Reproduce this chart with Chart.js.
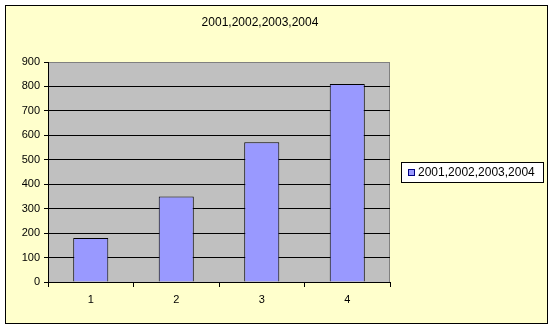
<!DOCTYPE html>
<html>
<head>
<meta charset="utf-8">
<script src="https://cdn.jsdelivr.net/npm/chart.js@4"></script>
<style>
  html, body { margin: 0; padding: 0; background: #ffffff; }
  canvas { display: block; }
</style>
</head>
<body>
<canvas id="grafico" width="555" height="329"></canvas>
<script>
// dados do grafico
var categorias = ['1', '2', '3', '4'];
var valores = [180, 350, 572, 810];
var nomeSerie = '2001,2002,2003,2004';
var tituloTexto = '2001,2002,2003,2004';
var yMin = 0, yMax = 900, yPasso = 100;

var fonte = '"Liberation Sans", Arial, sans-serif';

// fundo amarelo, area cinza, titulo e legenda com caixa
var estilo = {
    id: 'estilo',
    beforeDraw: function(chart) {
        var c = chart.ctx, a = chart.chartArea;
        c.save();
        c.fillStyle = '#ffffff';
        c.fillRect(0, 0, chart.width, chart.height);
        c.fillStyle = '#FFFFCC';
        c.fillRect(5, 5, 543, 319);
        c.strokeStyle = '#000000';
        c.lineWidth = 1;
        c.strokeRect(5.5, 5.5, 542, 318);
        c.fillStyle = '#C0C0C0';
        c.fillRect(a.left, a.top, a.right - a.left, a.bottom - a.top);
        c.strokeStyle = '#808080';
        c.beginPath();
        c.moveTo(a.left, a.top + 0.5);
        c.lineTo(a.right - 0.5, a.top + 0.5);
        c.lineTo(a.right - 0.5, a.bottom);
        c.stroke();
        c.restore();
    },
    afterDraw: function(chart) {
        var c = chart.ctx;
        c.save();
        c.fillStyle = '#000000';
        c.font = '12px ' + fonte;
        c.textAlign = 'center';
        c.textBaseline = 'middle';
        c.fillText(tituloTexto, 260, 23);

        // legenda
        c.fillStyle = '#ffffff';
        c.fillRect(401, 162, 142, 20);
        c.strokeStyle = '#000000';
        c.strokeRect(401.5, 162.5, 142, 20);
        c.fillStyle = '#9999FF';
        c.fillRect(408, 169, 7, 7);
        c.strokeStyle = '#000080';
        c.strokeRect(408.5, 169.5, 6, 6);
        c.fillStyle = '#000000';
        c.textAlign = 'left';
        c.fillText(chart.data.datasets[0].label, 418, 173);
        c.restore();
    }
};

var ctx = document.getElementById('grafico').getContext('2d');
var myChart = new Chart(ctx, {
    type: 'bar',
    data: {
        labels: categorias,
        datasets: [{
            label: nomeSerie,
            data: valores,
            backgroundColor: '#9999FF',
            borderColor: '#000000',
            borderWidth: 1,
            barPercentage: 0.41,
            categoryPercentage: 1
        }]
    },
    options: {
        responsive: false,
        animation: false,
        devicePixelRatio: 1,
        layout: { padding: { left: 5, top: 62, right: 165, bottom: 0 } },
        plugins: {
            legend: { display: false },
            title: { display: false },
            tooltip: { enabled: false }
        },
        scales: {
            x: {
                afterFit: function(s) { s.height = 47; },
                border: { color: '#000000', width: 1 },
                grid: {
                    offset: true,
                    drawOnChartArea: false,
                    tickLength: 5,
                    color: '#000000'
                },
                ticks: {
                    color: '#000000',
                    padding: 6,
                    font: { family: fonte, size: 11 }
                }
            },
            y: {
                min: yMin,
                max: yMax,
                afterFit: function(s) { s.width = 43; },
                border: { color: '#000000', width: 1 },
                grid: {
                    color: function(c) { return c.tick && c.tick.value === yMax ? '#808080' : '#000000'; },
                    tickColor: '#000000',
                    tickLength: 4
                },
                ticks: {
                    stepSize: yPasso,
                    color: '#000000',
                    padding: 4,
                    font: { family: fonte, size: 11 }
                }
            }
        }
    },
    plugins: [estilo]
});
</script>
</body>
</html>
